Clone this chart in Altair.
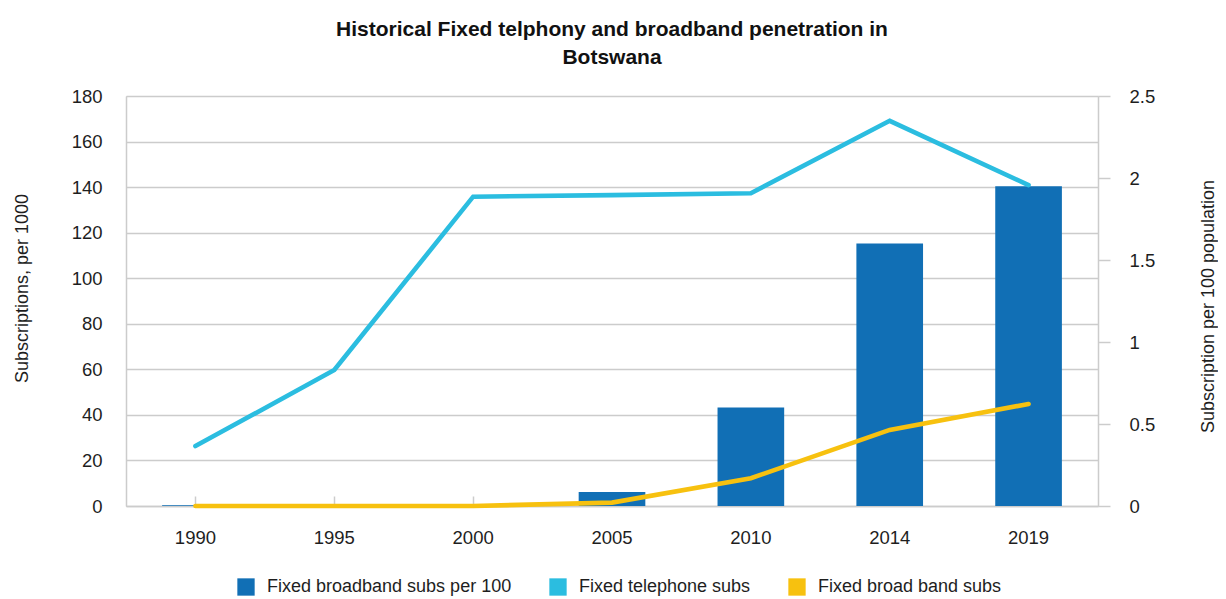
import altair as alt
import pandas as pd

years = ["1990", "1995", "2000", "2005", "2010", "2014", "2019"]
bb_per100 = [0.005, 0.0, 0.0, 0.085, 0.60, 1.60, 1.95]
tel_subs = [26.3, 59.7, 135.8, 136.5, 137.3, 169.1, 140.9]
bb_subs = [0.0, 0.0, 0.0, 1.5, 12.2, 33.4, 44.8]

series_names = ["Fixed broadband subs per 100", "Fixed telephone subs", "Fixed broad band subs"]
series_colors = ["#116fb5", "#2bbde0", "#f7c10f"]

left_ticks = [0, 20, 40, 60, 80, 100, 120, 140, 160, 180]
right_ticks = [0, 0.5, 1, 1.5, 2, 2.5]

FONT = "Liberation Sans"
TXT = "#1e1e1e"
GRAY = "#cccccc"

bar_df = pd.DataFrame({"year": years, "value": bb_per100, "series": series_names[0]})
line_df = pd.concat([
    pd.DataFrame({"year": years, "value": tel_subs, "series": series_names[1]}),
    pd.DataFrame({"year": years, "value": bb_subs, "series": series_names[2]}),
])

xscale = alt.Scale(paddingInner=0.52, paddingOuter=0.26)
color = alt.Color(
    "series:N",
    scale=alt.Scale(domain=series_names, range=series_colors),
    legend=alt.Legend(
        title=None, orient="none", legendX=111, legendY=482, direction="horizontal",
        symbolType="square", symbolSize=300, symbolStrokeWidth=0, labelFont=FONT,
        labelFontSize=18, labelColor=TXT, labelLimit=400, labelOffset=12,
        columnPadding=37, symbolOpacity=1,
    ),
)

bars = alt.Chart(bar_df).mark_bar().encode(
    x=alt.X("year:O", scale=xscale, sort=years,
            axis=alt.Axis(orient="bottom", title=None, ticks=False, domain=True,
                          domainColor=GRAY, domainWidth=1.5, labelAngle=0,
                          labelFont=FONT, labelFontSize=18.5, labelColor=TXT,
                          labelPadding=22, grid=False)),
    y=alt.Y("value:Q", scale=alt.Scale(domain=[0, 2.5], nice=False),
            axis=alt.Axis(orient="right", values=right_ticks, format=".1~f",
                          title="Subscription per 100 population", grid=False,
                          domainColor=GRAY, domainWidth=1.5, tickColor=GRAY,
                          tickSize=12, tickWidth=1.5, labelPadding=19,
                          labelFont=FONT, labelFontSize=18.5, labelColor=TXT,
                          labelAlign="left", titleFont=FONT, titleFontSize=18,
                          titleFontWeight="normal", titleColor=TXT, titleAngle=270,
                          titleX=110, titleY=210, titleAlign="center",
                          titleBaseline="middle")),
    color=color,
)

lines = alt.Chart(line_df).mark_line(strokeWidth=4.6, strokeCap="round", strokeJoin="miter").encode(
    x=alt.X("year:O", scale=xscale, sort=years,
            axis=alt.Axis(orient="bottom", title=None, labels=False, domain=False,
                          ticks=True, tickSize=10, tickColor=GRAY, tickWidth=1.5,
                          offset=-10, bandPosition=0.5, grid=False)),
    y=alt.Y("value:Q", scale=alt.Scale(domain=[0, 180], nice=False),
            axis=alt.Axis(orient="left", values=left_ticks, title="Subscriptions, per 1000",
                          grid=True, gridColor=GRAY, gridWidth=1.5, ticks=False,
                          domainColor=GRAY, domainWidth=1.5, labelPadding=24,
                          labelFont=FONT, labelFontSize=18.5, labelColor=TXT,
                          titleFont=FONT, titleFontSize=18, titleFontWeight="normal",
                          titleColor=TXT, titleAngle=270, titleX=-104, titleY=192,
                          titleAlign="center", titleBaseline="middle")),
    color=color,
    detail="series:N",
)

chart = alt.layer(bars, lines).resolve_scale(y="independent").resolve_axis(
    x="independent", y="independent"
).properties(
    width=972,
    height=410,
    autosize=alt.AutoSizeParams(type="none"),
    padding={"left": 118, "top": 88, "right": 120, "bottom": 91},
    title=alt.TitleParams(
        text=["Historical Fixed telphony and broadband penetration in", "Botswana"],
        font=FONT, fontSize=21, fontWeight="bold", color="#111111",
        lineHeight=28, anchor="middle", offset=19,
    ),
).configure_view(stroke=None).configure(background="white")

chart.save("out.html", embed_options={"renderer": "svg", "actions": False})
